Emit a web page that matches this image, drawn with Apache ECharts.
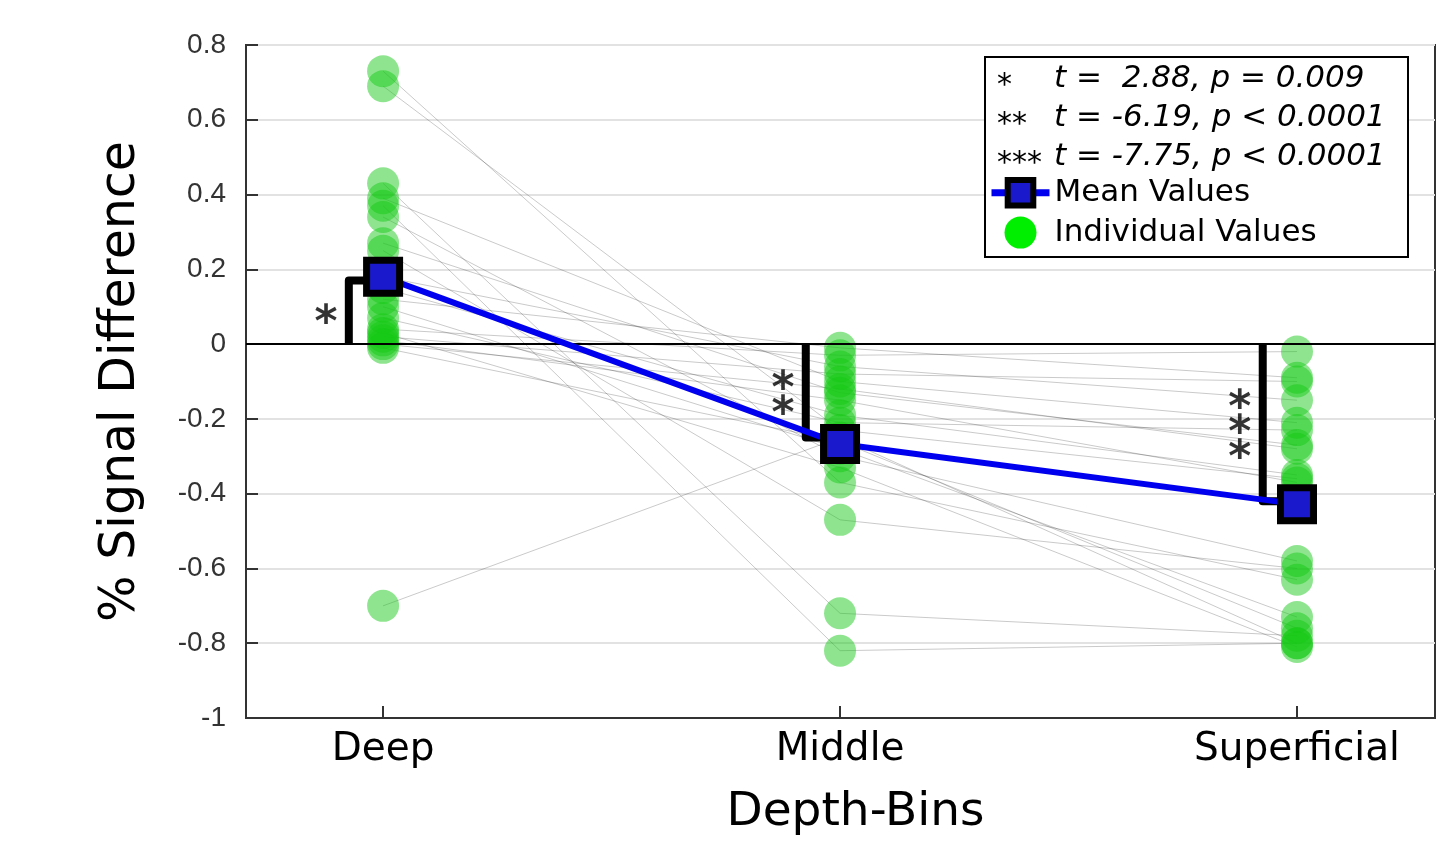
<!DOCTYPE html>
<html>
<head>
<meta charset="utf-8">
<script src="https://cdn.jsdelivr.net/npm/echarts@6/dist/echarts.min.js"></script>
<style>
html,body{margin:0;padding:0;background:#fff;}
#chart{width:1452px;height:842px;}
</style>
</head>
<body>
<div id="chart"></div>
<script>
// categories on the x axis
const depthBins = ['Deep', 'Middle', 'Superficial']
// individual subjects, same order in every array
const deepValues = [0.73, 0.69, 0.43, 0.39, 0.37, 0.34, 0.27, 0.25, 0.18, 0.15, 0.12, 0.10, 0.07, 0.04, 0.03, 0.02, 0.01, 0.00, -0.01, -0.70]
const middleValues = [-0.37, -0.23, -0.72, -0.10, -0.82, -0.30, -0.13, -0.47, -0.06, -0.19, -0.01, -0.28, -0.21, -0.03, -0.33, -0.08, -0.15, -0.12, -0.26, -0.25]
const superficialValues = [-0.63, -0.36, -0.78, -0.21, -0.80, -0.58, -0.27, -0.60, -0.15, -0.35, -0.09, -0.73, -0.23, -0.02, -0.81, -0.10, -0.37, -0.28, -0.76, -0.80]
// mean per bin
const meanValues = [0.18, -0.267, -0.428]
// significance marks: level of bracket, stars
const sigLevels = [0.17, -0.25, -0.42]
const sigStars = ['*', '**', '***']
const statLines = ['t =  2.88, p = 0.009', 't = -6.19, p < 0.0001', 't = -7.75, p < 0.0001']

const chart = echarts.init(document.getElementById('chart'))

const series = []
// gray line for each subject
deepValues.forEach((d, i) => {
    series.push({
        type: 'line',
        silent: true,
        symbol: 'none',
        z: 1,
        lineStyle: { color: 'rgba(0,0,0,0.27)', width: 0.8 },
        data: [[0, d], [1, middleValues[i]], [2, superficialValues[i]]]
    })
})
// zero line
series.push({
    type: 'line',
    data: [],
    silent: true,
    z: 2,
    markLine: {
        silent: true,
        symbol: 'none',
        label: { show: false },
        lineStyle: { color: '#000', width: 2, type: 'solid' },
        data: [{ yAxis: 0 }]
    }
})
// individual points
const points = []
deepValues.forEach(v => points.push([0, v]))
middleValues.forEach(v => points.push([1, v]))
superficialValues.forEach(v => points.push([2, v]))
series.push({
    name: 'Individual Values',
    type: 'scatter',
    z: 3,
    symbolSize: 32,
    itemStyle: { color: 'rgba(20,200,20,0.6)' },
    data: points
})
// brackets
sigLevels.forEach((lv, i) => {
    const bx = i - 0.075
    series.push({
        type: 'line',
        silent: true,
        symbol: 'none',
        z: 4,
        lineStyle: { color: '#000', width: 8, join: 'round', cap: 'butt' },
        data: [[bx, 0], [bx, lv], [i, lv]]
    })
    // stars stacked vertically
    const n = sigStars[i].length
    const stars = sigStars[i].split('').map((s, k) => [bx - 0.05, lv / 2 + (((n - 1) / 2) - k) * 0.068])
    series.push({
        type: 'scatter',
        silent: true,
        z: 4,
        symbolSize: 1,
        itemStyle: { color: 'transparent' },
        label: {
            show: true,
            formatter: '*',
            position: 'inside',
            offset: [0, 12],
            fontSize: 44,
            fontWeight: 'bold',
            fontFamily: 'DejaVu Sans',
            color: '#000'
        },
        data: stars
    })
})
// mean values
series.push({
    name: 'Mean Values',
    type: 'line',
    z: 6,
    symbol: 'rect',
    symbolSize: 33,
    lineStyle: { color: '#0000ee', width: 6 },
    itemStyle: { color: '#1a1acc', borderColor: '#000', borderWidth: 7 },
    data: meanValues.map((v, i) => [i, v])
})

const option = {
    animation: false,
    grid: {
        left: 246, right: 17, top: 45, bottom: 124,
        show: true, borderColor: '#333', borderWidth: 2, backgroundColor: 'transparent'
    },
    xAxis: {
        type: 'value',
        min: -0.3,
        max: 2.302,
        name: 'Depth-Bins',
        nameLocation: 'middle',
        nameGap: 71,
        nameTextStyle: { fontSize: 47, fontFamily: 'DejaVu Sans', color: '#000', padding: [0, 0, 0, 30] },
        axisLine: { show: true, onZero: false, lineStyle: { color: '#333', width: 2 } },
        axisTick: { show: true, inside: true, length: 12, customValues: [0, 1, 2], lineStyle: { color: '#333', width: 2 } },
        axisLabel: {
            customValues: [0, 1, 2],
            formatter: v => depthBins[Math.round(v)],
            fontSize: 39,
            fontFamily: 'DejaVu Sans',
            color: '#000',
            margin: 12
        },
        splitLine: { show: false }
    },
    yAxis: {
        type: 'value',
        min: -1,
        max: 0.8,
        interval: 0.2,
        name: '% Signal Difference',
        nameLocation: 'middle',
        nameGap: 100,
        nameTextStyle: { fontSize: 49, fontFamily: 'DejaVu Sans', color: '#000' },
        axisLine: { show: true, onZero: false, lineStyle: { color: '#333', width: 2 } },
        axisTick: { show: true, inside: true, length: 12, lineStyle: { color: '#333', width: 2 } },
        axisLabel: {
            fontSize: 28,
            fontFamily: 'Liberation Sans',
            color: '#333',
            margin: 20,
            formatter: v => String(Math.round(v * 10) / 10)
        },
        splitLine: { show: true, lineStyle: { color: '#e2e2e2', width: 2 } }
    },
    legend: {
        data: [
            { name: 'Mean Values', lineStyle: { width: 7 }, itemStyle: { borderWidth: 6 } },
            { name: 'Individual Values', itemStyle: { color: '#00ee00', opacity: 1 } }
        ],
        orient: 'vertical',
        left: 983,
        top: 172,
        itemWidth: 58,
        itemHeight: 32,
        itemGap: 8,
        z: 10,
        textStyle: { fontSize: 31, fontFamily: 'DejaVu Sans', color: '#000' }
    },
    graphic: [
        {
            type: 'rect', z: 8,
            shape: { x: 985, y: 57, width: 423, height: 200 },
            style: { fill: '#fff', stroke: '#000', lineWidth: 2 }
        }
    ].concat(sigStars.map((s, i) => ({
        type: 'text', z: 9,
        x: 997, y: 86 + i * 39,
        style: { text: s, font: '30px "DejaVu Sans"', fill: '#000', verticalAlign: 'middle' }
    }))).concat(statLines.map((t, i) => ({
        type: 'text', z: 9,
        x: 1054, y: 79 + i * 39,
        style: { text: t, font: 'italic 31px "DejaVu Sans"', fill: '#000', verticalAlign: 'middle' }
    }))),
    series: series
}
chart.setOption(option)
</script>
</body>
</html>
